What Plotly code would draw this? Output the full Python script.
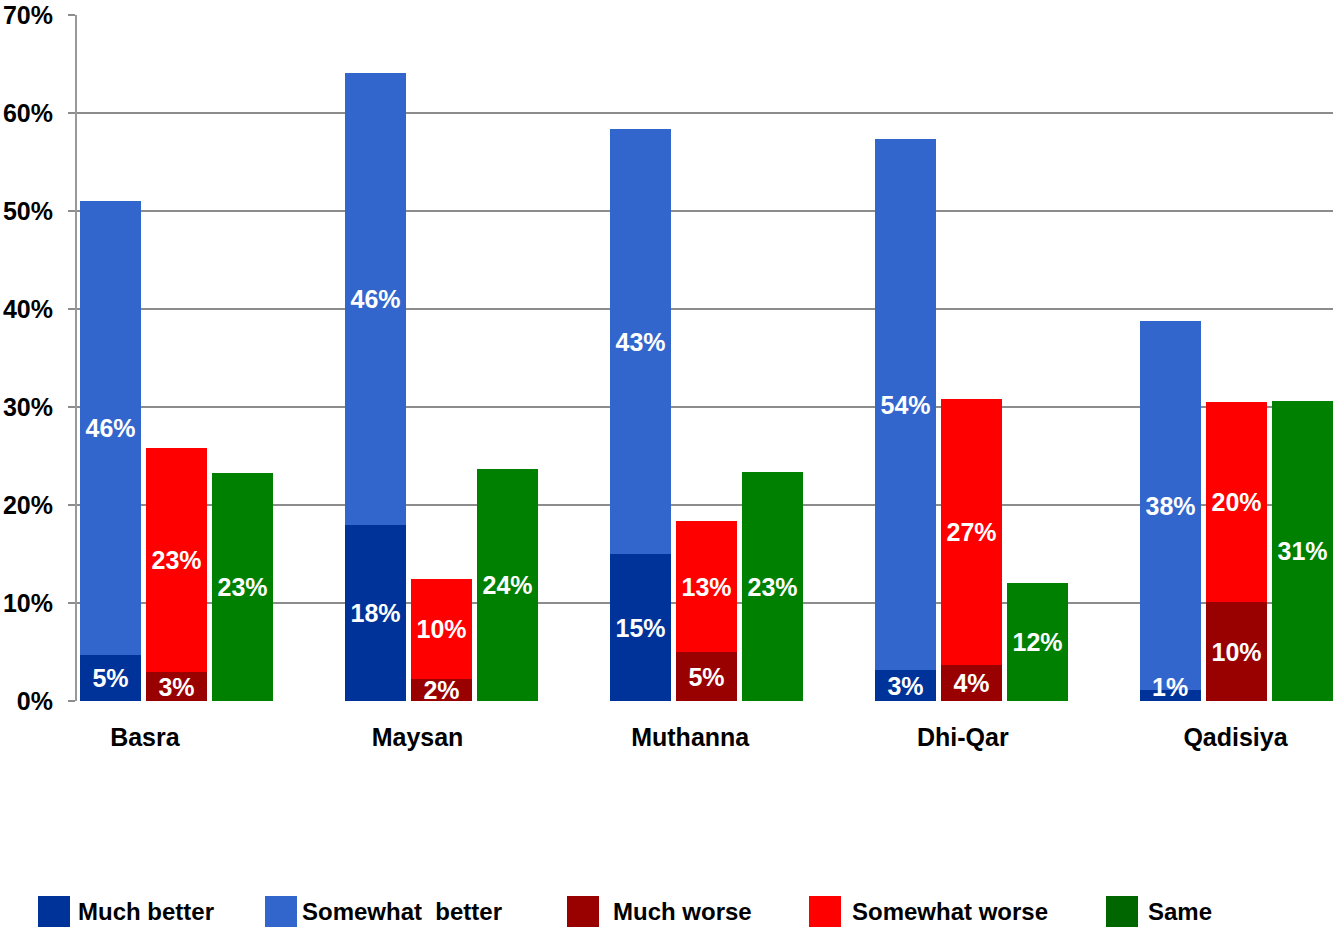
import plotly.graph_objects as go

# ---- data (percent) ----
regions = ["Basra", "Maysan", "Muthanna", "Dhi-Qar", "Qadisiya"]
much_better = [4.7, 18.0, 15.0, 3.2, 1.1]
somewhat_better = [46.3, 46.1, 43.4, 54.1, 37.7]
much_worse = [3.0, 2.2, 5.0, 3.7, 10.1]
somewhat_worse = [22.8, 10.2, 13.4, 27.1, 20.4]
same = [23.3, 23.7, 23.4, 12.0, 30.6]

series_names = ["Much better", "Somewhat  better", "Much worse", "Somewhat worse", "Same"]
bar_colors = ["#003399", "#3366CC", "#990000", "#FF0000", "#008000"]
legend_colors = ["#003399", "#3366CC", "#990000", "#FF0000", "#006600"]
y_ticks = [0, 10, 20, 30, 40, 50, 60, 70]

FONT = "Liberation Sans, Arial, Helvetica, sans-serif"
W, H = 1333, 928
ML, MR, MT, MB = 77, 0, 15, 227
LABEL_SIZE = 25
MIN_FIT = 2.0  # segments thinner than this (in %) get their label lifted onto the baseline

# slot layout: 4 slots per region (3 bars + gap)
SLOTS = 4
bx = {
    "better": [SLOTS * i + 0 for i in range(len(regions))],
    "worse": [SLOTS * i + 1 for i in range(len(regions))],
    "same": [SLOTS * i + 2 for i in range(len(regions))],
}
BAR_W = 0.92


def lbl(v):
    return [f"{round(x)}%" for x in v]


traces = [
    (much_better, bx["better"], 0),
    (somewhat_better, bx["better"], 1),
    (much_worse, bx["worse"], 2),
    (somewhat_worse, bx["worse"], 3),
    (same, bx["same"], 4),
]

annotations = []
fig = go.Figure()
for vals, xs, k in traces:
    texts = lbl(vals)
    shown = []
    for v, x, t in zip(vals, xs, texts):
        if v < MIN_FIT:
            shown.append("")
            annotations.append(dict(x=x, y=0, xref="x", yref="y", yanchor="bottom",
                                    xanchor="center", showarrow=False, text=t, yshift=-2,
                                    font=dict(family=FONT, size=LABEL_SIZE, color="white",
                                              weight="bold")))
        else:
            shown.append(t)
    fig.add_trace(go.Bar(
        x=xs, y=vals, name=series_names[k], width=BAR_W,
        marker=dict(color=bar_colors[k], line=dict(width=0)),
        text=shown, textposition="inside", insidetextanchor="middle",
        textangle=0, cliponaxis=False,
        textfont=dict(family=FONT, size=LABEL_SIZE, color="white", weight="bold"),
        showlegend=False, hoverinfo="skip",
    ))

plot_w = W - ML - MR
plot_h = H - MT - MB


def px_x(p):
    return (p - ML) / plot_w


def px_y(p):
    return (H - MB - p) / plot_h


shapes = []
leg_sw_x = [38, 265, 567, 809, 1106]
leg_tx_x = [76, 300, 611, 850, 1146]
for i, name in enumerate(series_names):
    x0 = leg_sw_x[i]
    shapes.append(dict(type="rect", xref="paper", yref="paper",
                       x0=px_x(x0), x1=px_x(x0 + 32), y0=px_y(896), y1=px_y(927),
                       fillcolor=legend_colors[i], line=dict(width=0)))
    annotations.append(dict(xref="paper", yref="paper", x=px_x(leg_tx_x[i]), y=px_y(911),
                            xanchor="left", yanchor="middle", showarrow=False,
                            text=name, font=dict(family=FONT, size=24, color="black", weight="bold")))

cat_pos = [0.52 + 4.117 * i for i in range(len(regions))]

fig.update_layout(
    width=W, height=H,
    barmode="relative", bargap=0,
    plot_bgcolor="white", paper_bgcolor="white",
    margin=dict(l=ML, r=MR, t=MT, b=MB, pad=0),
    uniformtext=dict(minsize=LABEL_SIZE, mode="show"),
    shapes=shapes, annotations=annotations,
    font=dict(family=FONT, color="black"),
)
fig.update_xaxes(
    range=[-0.505, 18.46], tickmode="array", tickvals=cat_pos, ticktext=regions,
    showgrid=False, zeroline=False, showline=False, ticks="",
    ticklabelstandoff=19, automargin=False,
    tickfont=dict(family=FONT, size=25, color="black", weight="bold"),
)
fig.update_yaxes(
    range=[0, 70], tickmode="array", tickvals=y_ticks,
    ticktext=[f"{t}%" for t in y_ticks],
    showgrid=True, gridcolor="#8c8c8c", gridwidth=2,
    zeroline=False, showline=True, linecolor="#999999", linewidth=2,
    ticks="outside", ticklen=7, tickwidth=2, tickcolor="#8c8c8c",
    ticklabelstandoff=10, automargin=False,
    tickfont=dict(family=FONT, size=25, color="black", weight="bold"),
)

fig.write_html(
    "out.html",
    config={"displayModeBar": False},
    post_script="document.body.style.margin='0px';document.body.style.overflow='hidden';",
)
